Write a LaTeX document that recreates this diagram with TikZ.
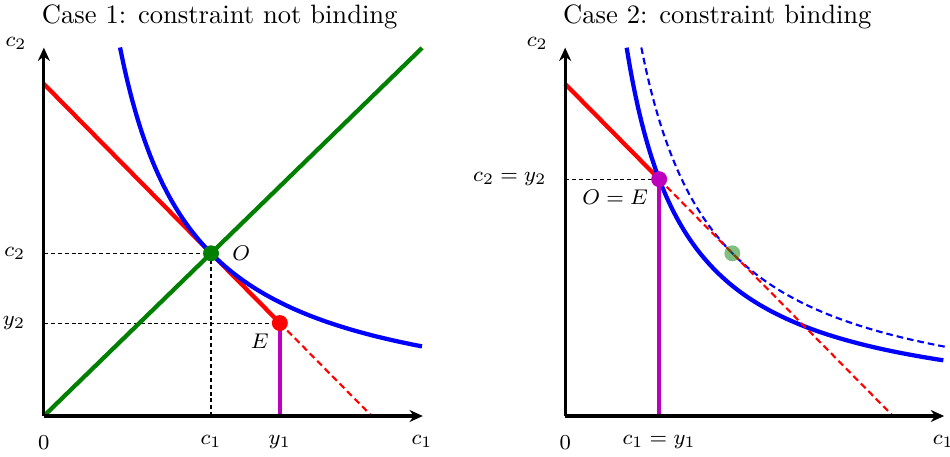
\documentclass[tikz,border=0pt]{standalone}
\usepackage{amsmath}
\usepackage{tikz}
\usetikzlibrary{arrows.meta, positioning}

\definecolor{endowcol}{RGB}{190,0,190}

\begin{document}
\begin{tikzpicture}[
  axis/.style={very thick, -{Stealth[length=5pt, width=4.5pt]}},
  guide/.style={thin, dash pattern=on 1.5pt off 1.1pt},
  budget/.style={red, line width=1.6pt},
  indiff/.style={blue, line width=1.6pt},
  endow/.style={endowcol, line width=1.6pt},
  lab/.style={font=\fontsize{8.3pt}{10pt}\selectfont},
  ticklab/.style={lab, below=3.8pt},
  sidelab/.style={lab, left=3.5pt}
]
  \useasboundingbox (-0.58,-0.53) rectangle (11.98,5.5);

  % Case 1 : contrainte non saturee
  \node[anchor=base west] (t1) at (-0.15,5.19) {Case 1: constraint not binding};
  \coordinate (O) at (2.21,2.151);
  \coordinate (E) at (3.12,1.229);

  % Lignes de rappel
  \draw[guide] (0,2.151) -- (O);
  \draw[guide] (O) -- (2.21,0);
  \draw[guide] (0,1.229) -- (E);

  % Contrainte budgetaire
  \draw[budget] (0,4.39) -- (E);
  \draw[red, thick, dash pattern=on 2.5pt off 1.5pt] (E) -- (4.334,0);

  % Courbe d'indifference
  \draw[indiff] plot[domain=1.007:5, samples=80, smooth] (\x,{4.907*exp(-1.04*ln(\x))});

  % Droite a 45 degres
  \draw[green!50!black, line width=1.6pt] (0,0) -- (5,4.866);

  % Dotation
  \draw[endow] (E) -- (3.12,0);

  % Axes
  \draw[axis] (0,0) -- (5.01,0);
  \draw[axis] (0,0) -- (0,4.87);

  \fill[green!50!black] (O) circle (3pt);
  \fill[red] (E) circle (3pt);

  % Labels
  \node[sidelab, left=3pt] (ly1) at (0,4.92) {$c_2$};
  \node[sidelab] (lc2) at (0,2.151) {$c_2$};
  \node[sidelab] (ly2) at (0,1.229) {$y_2$};
  \node[ticklab] (l01) at (0,0) {$0$};
  \node[ticklab] (lc1) at (2.21,0) {$c_1$};
  \node[ticklab] (lyy1) at (3.12,0) {$y_1$};
  \node[ticklab] (lx1) at (5.0,0) {$c_1$};
  \node[lab, right=4.5pt] (lO) at (O) {$O$};
  \node[lab, below left=1pt] (lE) at (E) {$E$};

  \begin{scope}[xshift=6.892cm]
    % Case 2 : contrainte saturee
    \node[anchor=base west] (t2) at (-0.15,5.19) {Case 2: constraint binding};
    \coordinate (O2) at (2.21,2.151);
    \coordinate (E2) at (1.243,3.131);

    \draw[guide] (0,3.131) -- (E2);

    % Contrainte budgetaire
    \draw[budget] (0,4.39) -- (E2);

    % Courbes d'indifference
    \draw[indiff] plot[domain=0.813:5, samples=80, smooth] (\x,{3.926*exp(-1.04*ln(\x))});
    \draw[blue, thick, dash pattern=on 2.5pt off 1.5pt] plot[domain=1.007:5.02, samples=80, smooth] (\x,{4.907*exp(-1.04*ln(\x))});
    \draw[red, thick, dash pattern=on 2.5pt off 1.5pt] (E2) -- (4.334,0);

    % Dotation
    \draw[endow] (E2) -- (1.243,0);

    % Axes
    \draw[axis] (0,0) -- (5.01,0);
    \draw[axis] (0,0) -- (0,4.87);

    \fill[green!50!black, opacity=0.5] (O2) circle (3pt);
    \fill[endowcol] (E2) circle (3pt);

    % Labels
    \node[sidelab, left=3pt] (ry1) at (0,4.92) {$c_2$};
    \node[sidelab] (rc2) at (0,3.131) {$c_2 = y_2$};
    \node[ticklab] (r01) at (0,0) {$0$};
    \node[ticklab] (rc1) at (1.243,0) {$c_1 = y_1$};
    \node[ticklab] (rx1) at (5.0,0) {$c_1$};
    \node[lab, below left=1pt] (rOE) at (E2) {$O = E$};
  \end{scope}
\end{tikzpicture}
\end{document}
